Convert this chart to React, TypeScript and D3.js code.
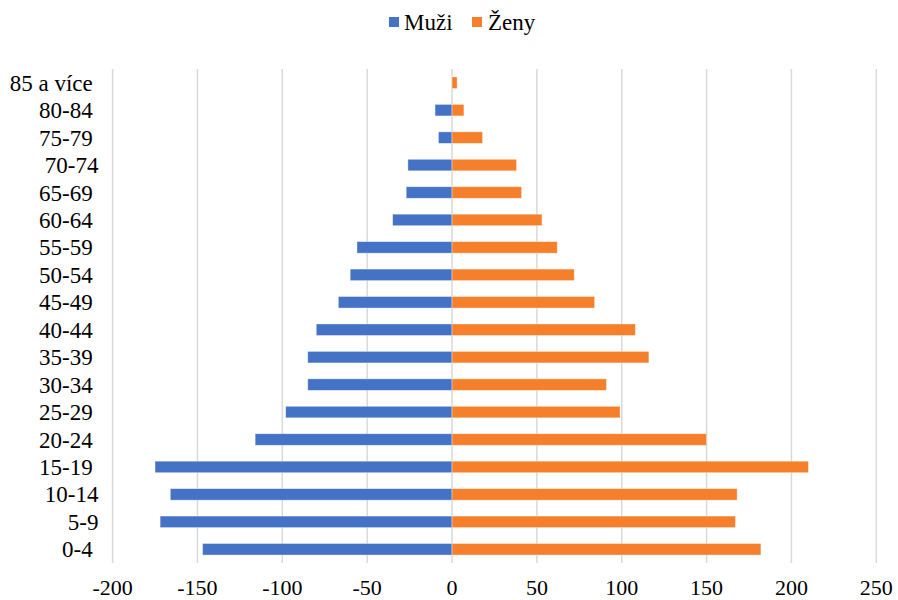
import React from "react";
import * as d3 from "d3";

// age groups, top to bottom (trailing spaces as in the source labels)
const categories = [
  "85 a více ", "80-84 ", "75-79 ", "70-74", "65-69 ", "60-64 ", "55-59 ", "50-54 ", "45-49 ",
  "40-44 ", "35-39 ", "30-34 ", "25-29 ", "20-24 ", "15-19 ", "10-14", "5-9", "0-4 ",
];
const muzi = [0, -10, -8, -26, -27, -35, -56, -60, -67, -80, -85, -85, -98, -116, -175, -166, -172, -147];
const zeny = [3, 7, 18, 38, 41, 53, 62, 72, 84, 108, 116, 91, 99, 150, 210, 168, 167, 182];
const xTicks = [-200, -150, -100, -50, 0, 50, 100, 150, 200, 250];

const W = 898;
const H = 600;
const BLUE = "#4472C4";
const ORANGE = "#F57F2A";
const FONT = "'Times New Roman', 'Liberation Serif', Tinos, 'DejaVu Serif', serif";
const txt: React.CSSProperties = { fontFamily: FONT, whiteSpace: "pre" };

const App = () => {
  const x = d3.scaleLinear().domain([-200, 250]).range([112.6, 876.3]);
  const y = d3.scaleBand().domain(categories).range([69, 563]).paddingInner(0.58).paddingOuter(0.29);

  const bars = (vals: number[], color: string) =>
    vals.map((v, i) => (
      <rect
        key={color + i}
        x={Math.min(x(0), x(v))}
        y={y(categories[i])}
        width={Math.abs(x(v) - x(0))}
        height={y.bandwidth()}
        fill={color}
        stroke="#ffffff"
        strokeOpacity={0.5}
        strokeWidth={0.75}
      />
    ));

  return (
    <svg width={W} height={H} style={{ position: "absolute", left: 0, top: 0, display: "block", background: "#fff" }}>
      {/* gridlines */}
      {xTicks.map((t) => (
        <line key={t} x1={x(t)} x2={x(t)} y1={69} y2={563} stroke="#d9d9d9" strokeWidth={1.5} />
      ))}

      {bars(muzi, BLUE)}
      {bars(zeny, ORANGE)}

      {/* category labels */}
      {categories.map((c) => (
        <text
          key={c}
          x={98.5}
          y={(y(c) as number) + y.bandwidth() / 2}
          dy="0.35em"
          textAnchor="end"
          fontSize={23}
          fill="#000"
          style={txt}
        >
          {c}
        </text>
      ))}

      {/* x tick labels */}
      {xTicks.map((t) => (
        <text key={"t" + t} x={x(t)} y={595} textAnchor="middle" fontSize={22} fill="#000" style={txt}>
          {t}
        </text>
      ))}

      {/* legend */}
      <rect x={389} y={17} width={10} height={10} fill={BLUE} />
      <text x={404} y={30} fontSize={23} fill="#000" style={txt}>Muži</text>
      <rect x={472} y={17} width={10} height={10} fill={ORANGE} />
      <text x={488} y={30} fontSize={23} fill="#000" style={txt}>Ženy</text>
    </svg>
  );
};

export default App;
